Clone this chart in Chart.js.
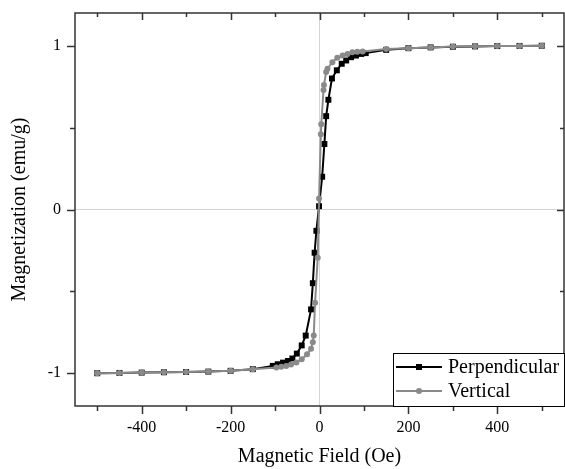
<!DOCTYPE html>
<html>
<head>
<meta charset="utf-8">
<script src="https://cdn.jsdelivr.net/npm/chart.js@4.4.1/dist/chart.umd.min.js"></script>
<style>
html,body{margin:0;padding:0;background:#fff;}
#wrap{width:565px;height:469px;position:relative;}
</style>
</head>
<body>
<div id="wrap"><canvas id="c" width="565" height="469"></canvas></div>
<script>
// ---- data ----
const seriesNames = ['Perpendicular', 'Vertical'];

const perpField = [-500,-450,-400,-350,-300,-250,-200,-150,-105,-94,-82,-71,-61,-51,-40,-31,-19,-15,-11,-7,-1,6,11,15,20,28,39,50,60,71,82,94,104,150,200,250,300,350,400,450,500];
const perpMag   = [-1,-0.998,-0.996,-0.994,-0.992,-0.99,-0.985,-0.975,-0.955,-0.945,-0.935,-0.925,-0.91,-0.88,-0.83,-0.77,-0.61,-0.45,-0.264,-0.13,0.02,0.2,0.4,0.57,0.67,0.8,0.85,0.89,0.91,0.93,0.94,0.95,0.955,0.975,0.985,0.99,0.994,0.996,0.998,0.999,1];

const vertField = [-500,-450,-400,-350,-300,-250,-200,-150,-97,-86,-75,-64,-52,-40,-28,-19,-15,-13,-10,-4,-1,3,4,9,10,15,18,29,40,52,63,74,85,97,150,200,250,300,350,400,450,500];
const vertMag   = [-1,-0.998,-0.996,-0.994,-0.992,-0.99,-0.985,-0.975,-0.965,-0.96,-0.955,-0.947,-0.935,-0.915,-0.884,-0.85,-0.81,-0.77,-0.57,-0.295,0.067,0.46,0.52,0.73,0.76,0.84,0.86,0.9,0.927,0.94,0.95,0.96,0.963,0.965,0.98,0.985,0.99,0.995,0.997,0.998,0.999,1];

const xTickValues = [-500,-400,-300,-200,-100,0,100,200,300,400,500];
const xTickLabels = ['', '-400', '', '-200', '', '0', '', '200', '', '400', ''];
const yTickValues = [-1,-0.5,0,0.5,1];
const yTickLabels = ['-1', '', '0', '', '1'];

const xTitle = 'Magnetic Field (Oe)';
const yTitle = 'Magnetization (emu/g)';
// --------------------------------------

const SERIF = '"Liberation Serif", "Times New Roman", serif';
const BLACK = '#000000';
const GRAY = '#8a8a8a';
const AXIS = '#333333';

function pts(xs, ys){ return xs.map((x,i)=>({x:x, y:ys[i]})); }

const frame = {
  id: 'frame',
  afterDraw(chart){
    const ctx = chart.ctx, a = chart.chartArea;
    const xs = chart.scales.x, ys = chart.scales.y;
    ctx.save();
    ctx.strokeStyle = AXIS;
    ctx.lineWidth = 1.5;
    ctx.strokeRect(a.left, a.top, a.right - a.left, a.bottom - a.top);
    xTickValues.forEach((v,i)=>{
      const px = Math.round(xs.getPixelForValue(v)) + 0.5;
      const major = xTickLabels[i] !== '' ;
      const L = major ? 8 : 5;
      ctx.beginPath();
      ctx.moveTo(px, a.bottom); ctx.lineTo(px, a.bottom + L);
      ctx.moveTo(px, a.top); ctx.lineTo(px, a.top + (major ? 7 : 4));
      ctx.stroke();
    });
    yTickValues.forEach((v,i)=>{
      const py = Math.round(ys.getPixelForValue(v)) + 0.5;
      const major = yTickLabels[i] !== '';
      const L = major ? 8 : 5;
      ctx.beginPath();
      ctx.moveTo(a.left, py); ctx.lineTo(a.left - L, py);
      ctx.moveTo(a.right, py); ctx.lineTo(a.right - (major ? 7 : 4), py);
      ctx.stroke();
    });
    // legend
    const lx = 393, ly = 353, lw = a.right - 393, lh = a.bottom - 353;
    ctx.fillStyle = '#fff';
    ctx.fillRect(lx, ly, lw, lh);
    ctx.strokeStyle = '#000';
    ctx.lineWidth = 1;
    ctx.strokeRect(lx + 0.5, ly + 0.5, lw, lh);
    const dsets = chart.data.datasets;
    const rows = [367, 391];
    dsets.forEach((ds, i)=>{
      const y = rows[i];
      ctx.strokeStyle = ds.borderColor;
      ctx.lineWidth = 2;
      ctx.beginPath(); ctx.moveTo(396, y); ctx.lineTo(442, y); ctx.stroke();
      ctx.fillStyle = ds.borderColor;
      if (ds.pointStyle === 'rect') { ctx.fillRect(416, y - 3, 6, 6); }
      else { ctx.beginPath(); ctx.arc(419, y, 3, 0, Math.PI*2); ctx.fill(); }
      ctx.fillStyle = '#000';
      ctx.font = '20px ' + SERIF;
      ctx.textBaseline = 'middle';
      ctx.textAlign = 'left';
      ctx.fillText(ds.label, 448, y + 1);
    });
    ctx.restore();
  }
};

function zeroPad(s){ s.paddingTop = 0; s.paddingBottom = 0; s.paddingLeft = 0; s.paddingRight = 0; }

new Chart(document.getElementById('c'), {
  type: 'scatter',
  data: {
    datasets: [
      {
        label: seriesNames[0],
        data: pts(perpField, perpMag),
        showLine: true,
        borderColor: BLACK,
        backgroundColor: BLACK,
        borderWidth: 2,
        pointStyle: 'rect',
        pointRadius: 4.2,
        pointBorderWidth: 0,
        order: 1
      },
      {
        label: seriesNames[1],
        data: pts(vertField, vertMag),
        showLine: true,
        borderColor: GRAY,
        backgroundColor: GRAY,
        borderWidth: 2,
        pointStyle: 'circle',
        pointRadius: 3,
        pointBorderWidth: 0,
        order: 0
      }
    ]
  },
  options: {
    responsive: false,
    animation: false,
    devicePixelRatio: 1,
    layout: { autoPadding: false, padding: { top: 13, right: 1, left: 0, bottom: 0 } },
    plugins: { legend: { display: false }, tooltip: { enabled: false } },
    scales: {
      x: {
        type: 'linear',
        min: -550, max: 550,
        afterBuildTicks: s => { s.ticks = xTickValues.map(v => ({ value: v })); },
        afterFit: s => { s.height = 63; zeroPad(s); },
        border: { display: false },
        grid: {
          drawTicks: false,
          color: c => (c.tick && c.tick.value === 0) ? '#d4d4d4' : 'rgba(0,0,0,0)',
          lineWidth: 1
        },
        ticks: {
          autoSkip: false, maxRotation: 0, padding: 12,
          color: '#000',
          font: { family: SERIF, size: 16 },
          callback: (v, i) => xTickLabels[i]
        },
        title: {
          display: true, text: xTitle, color: '#000',
          font: { family: SERIF, size: 20 },
          padding: { top: 0, bottom: 0 }
        }
      },
      y: {
        type: 'linear',
        min: -1.2, max: 1.2,
        afterBuildTicks: s => { s.ticks = yTickValues.map(v => ({ value: v })); },
        afterFit: s => { s.width = 75; zeroPad(s); },
        border: { display: false },
        grid: {
          drawTicks: false,
          color: c => (c.tick && c.tick.value === 0) ? '#d4d4d4' : 'rgba(0,0,0,0)',
          lineWidth: 1
        },
        ticks: {
          autoSkip: false, padding: 14,
          color: '#000',
          font: { family: SERIF, size: 16 },
          callback: (v, i) => yTickLabels[i]
        },
        title: {
          display: true, text: yTitle, color: '#000',
          font: { family: SERIF, size: 20 },
          padding: { top: 8, bottom: 0 }
        }
      }
    }
  },
  plugins: [frame]
});
</script>
</body>
</html>
